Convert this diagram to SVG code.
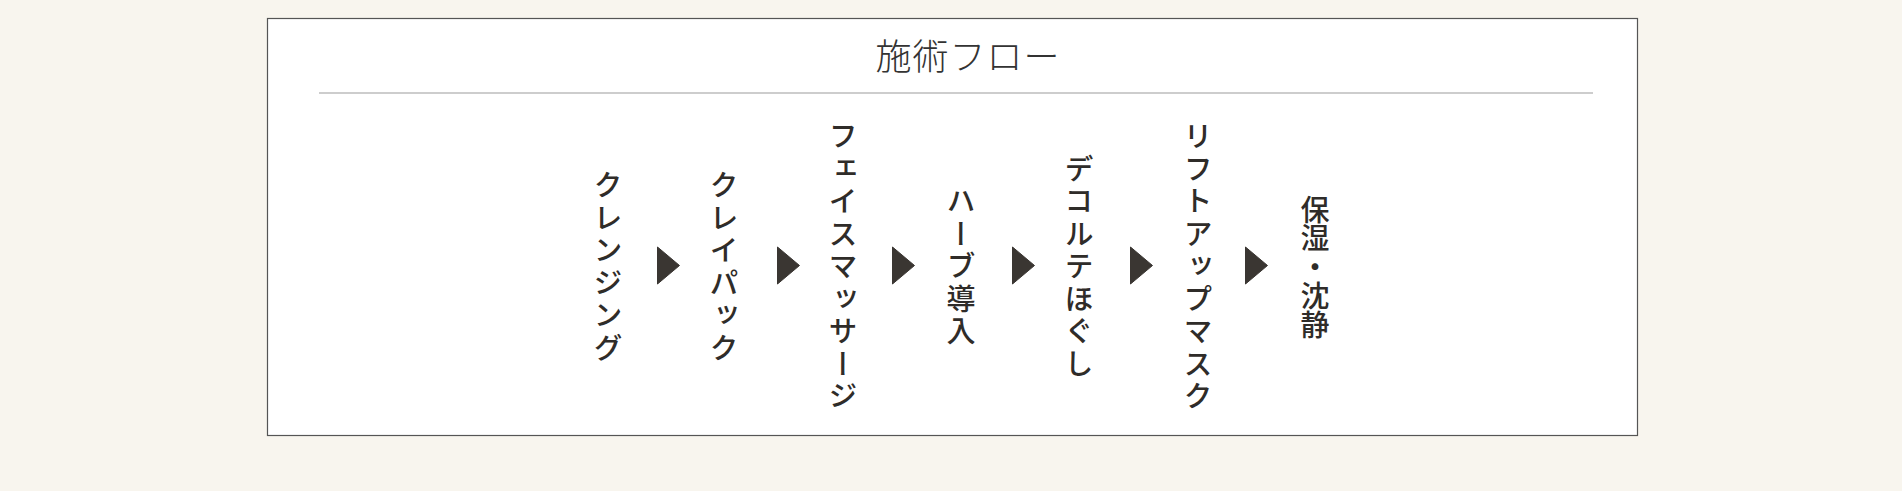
<svg xmlns="http://www.w3.org/2000/svg" width="1902" height="491" viewBox="0 0 1902 491">
  <style>
    .title { font-family: "Noto Sans CJK JP", "Noto Sans CJK SC", sans-serif; font-size: 36px; font-weight: 300; fill: #333; letter-spacing: 1px; }
    .step { font-family: "Noto Sans CJK JP", "Noto Sans CJK SC", sans-serif; font-size: 29px; font-weight: 500; fill: #2f2c29; writing-mode: vertical-rl; letter-spacing: 3.5px; }
    .kanji { font-size: 29px; letter-spacing: -0.3px; }
    .arrow { fill: #3a3632; stroke: #3a3632; stroke-width: 1; stroke-linejoin: round; }
  </style>
  <rect x="0" y="0" width="1902" height="491" fill="#f8f5ee"/>
  <g id="frame">
    <rect x="267.5" y="18.5" width="1370" height="417" fill="#ffffff" stroke="#555" stroke-width="1.2"/>
    <line x1="319" y1="93" x2="1593" y2="93" stroke="#bdbdbd" stroke-width="1.5"/>
  </g>
  <g id="title">
    <text class="title" x="968" y="70" text-anchor="middle">施術フロー</text>
  </g>
  <g id="step1"><text class="step" x="608" y="268" text-anchor="middle">クレンジング</text></g>
  <g id="step2"><text class="step" x="724" y="268" text-anchor="middle">クレイパック</text></g>
  <g id="step3"><text class="step" x="843" y="268" text-anchor="middle">フェイスマッサージ</text></g>
  <g id="step4"><text class="step" x="961" y="268" text-anchor="middle">ハーブ導入</text></g>
  <g id="step5"><text class="step" x="1079" y="268" text-anchor="middle">デコルテほぐし</text></g>
  <g id="step6"><text class="step" x="1198" y="268" text-anchor="middle">リフトアップマスク</text></g>
  <g id="step7"><text class="step kanji" x="1315" y="267" text-anchor="middle">保湿・沈静</text></g>
  <g id="connectors">
    <polygon class="arrow" points="657.5,247 679.5,265.5 657.5,284"/>
    <polygon class="arrow" points="777.5,247 799.5,265.5 777.5,284"/>
    <polygon class="arrow" points="892.5,247 914.5,265.5 892.5,284"/>
    <polygon class="arrow" points="1012.5,247 1034.5,265.5 1012.5,284"/>
    <polygon class="arrow" points="1130.5,247 1152.5,265.5 1130.5,284"/>
    <polygon class="arrow" points="1245.5,247 1267.5,265.5 1245.5,284"/>
  </g>
</svg>
